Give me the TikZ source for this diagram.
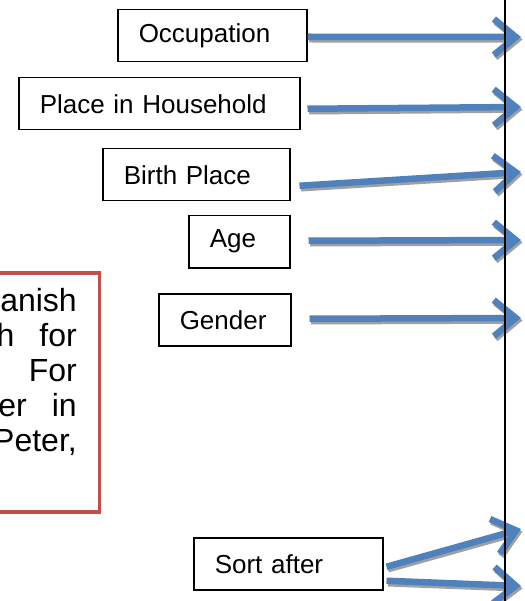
\documentclass[tikz,border=0pt]{standalone}
\usepackage{fontspec}
\setmainfont{Liberation Sans}
\usetikzlibrary{positioning, arrows.meta}
\definecolor{arrowblue}{RGB}{79,129,189}
\definecolor{shadowgray}{RGB}{160,160,160}
\definecolor{notered}{RGB}{192,80,77}

\begin{document}
\begin{tikzpicture}[
    % GLOBAL CFG
    x=1pt, y=-1pt,
    font=\fontsize{26}{30}\selectfont,
    % Styles
    field/.style={% For the field boxes
        rectangle,
        draw,
        line width=1.5pt,
        anchor=north west,
        minimum height=52pt,
        inner xsep=21pt,
        inner ysep=0pt,
        align=left,
        },
    flow/.style={% Blue arrows
        draw=arrowblue,
        line width=6.5pt,
        -{Straight Barb[length=22pt,width=36pt]},
        },
    flowshadow/.style={% Their grey shadow
        flow,
        draw=shadowgray,
        transform canvas={xshift=1.5pt, yshift=-2.5pt},
        },
    notetext/.style={% Lines of the red note
        anchor=base east,
        inner sep=0pt,
        font=\fontsize{32}{36}\selectfont,
        },
    ]

    \useasboundingbox (0,0) rectangle (524,601);
    \clip (0,0) rectangle (524,601);

    % Draw the red note, cut at the left
    \node [draw=notered, line width=3.5pt, anchor=north east, minimum width=120pt, minimum height=239pt] (note) at (101,271) {};
    \node [notetext] (n1) at (77,311) {Danish};
    \node [notetext] (n2) at (77,346) {h\hspace{25pt}for};
    \node [notetext] (n3) at (77,381) {For};
    \node [notetext] (n4) at (77,416) {er\hspace{25pt}in};
    \node [notetext] (n5) at (77,451) {Peter,};

    % Draw the fields
    \node [field, text width=147pt] (occ) at (117,9) {Occupation};
    \node [field, text width=239pt] (plc) at (18,77) {Place in Household};
    \node [field, text width=145pt] (brt) at (102,148) {Birth Place};
    \node [field, text width=59pt] (age) at (188,215) {Age};
    \node [field, text width=90pt] (gen) at (158,293) {Gender};
    \node [field, text width=147pt] (srt) at (193,537) {Sort after};

    % Arrow ends at the line
    \coordinate (occT) at (521,37);
    \coordinate (plcT) at (521,107);
    \coordinate (brtT) at (521,172);
    \coordinate (ageT) at (521,240);
    \coordinate (genT) at (521,318);
    \coordinate (srtT1) at (521,529);
    \coordinate (srtT2) at (521,586);

    % Arrows, shadow first
    \foreach \s in {flowshadow, flow} {
        \draw [\s] ([shift={(0,1)}]occ.east) -- (occT);
        \draw [\s] ([shift={(7,5)}]plc.east) -- (plcT);
        \draw [\s] ([shift={(9,11)}]brt.east) -- (brtT);
        \draw [\s] ([shift={(18,-1)}]age.east) -- (ageT);
        \draw [\s] ([shift={(18,-1)}]gen.east) -- (genT);
        \draw [\s] ([shift={(3,3)}]srt.east) -- (srtT1);
        \draw [\s] ([shift={(3,17)}]srt.east) -- (srtT2);
    }

    % The line
    \coordinate (lt) at (505,-5);
    \coordinate (lb) at (505,606);
    \draw [line width=1.5pt] (lt) -- (lb);

\end{tikzpicture}
\end{document}
